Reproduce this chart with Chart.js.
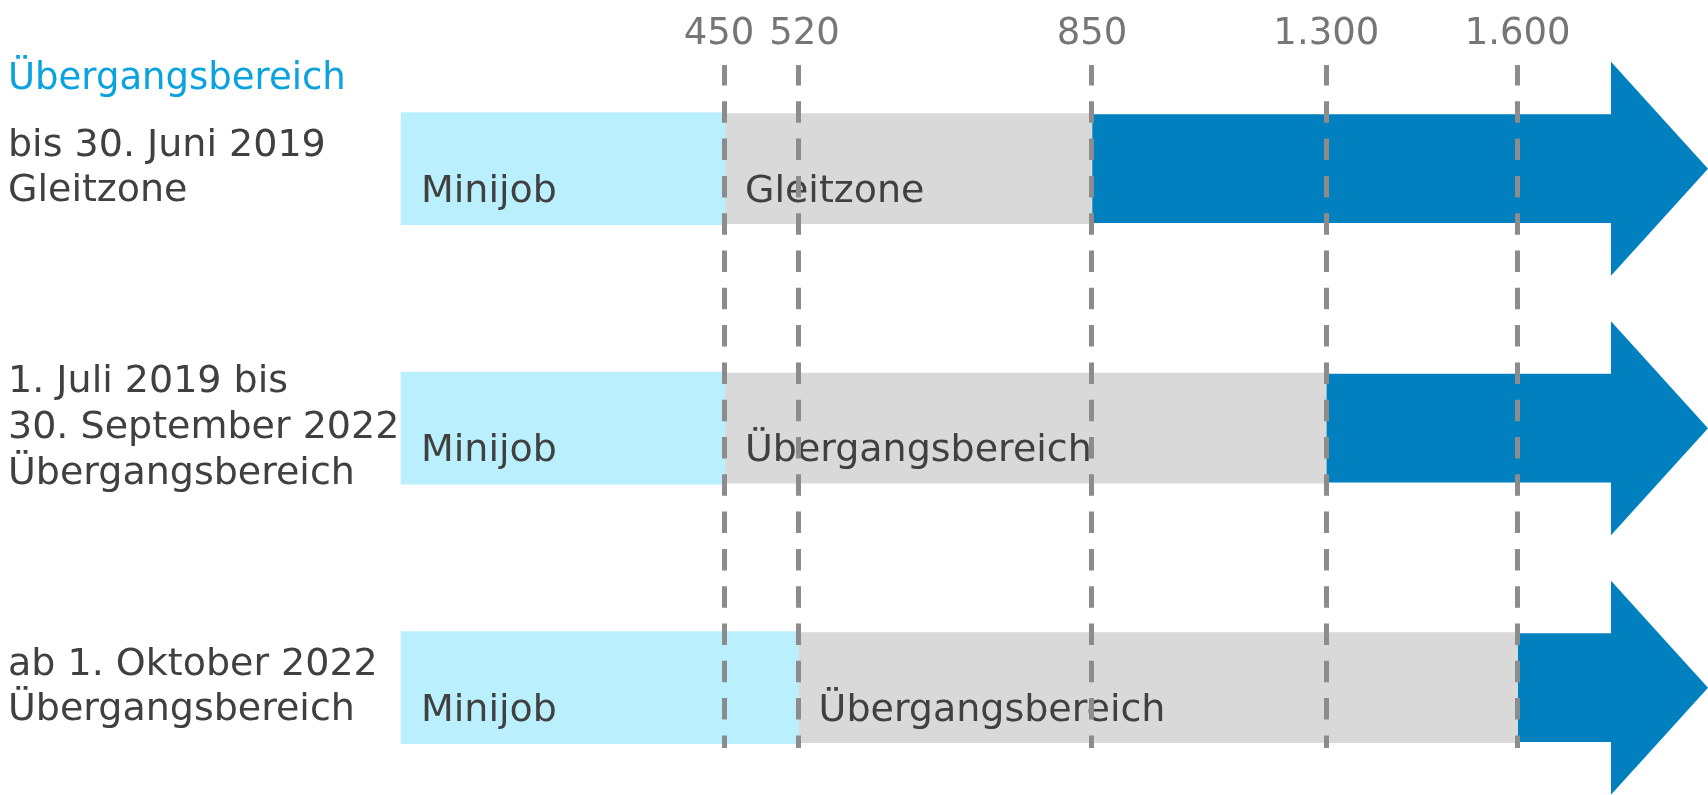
<!DOCTYPE html>
<html lang="de">
<head>
<meta charset="utf-8">
<title>Minijob, Gleitzone und Übergangsbereich</title>
<script src="https://cdn.jsdelivr.net/npm/chart.js@4.4.1/dist/chart.umd.min.js"></script>
<style>
  html, body { margin: 0; padding: 0; background: #fff; }
  #grafik { display: block; }
</style>
</head>
<body>
<canvas id="grafik" width="1708" height="795"></canvas>
<script>
// Zeitraeume (eine Zeile je Zeitraum)
const zeitraeume = [
  ['bis 30. Juni 2019', 'Gleitzone'],
  ['1. Juli 2019 bis', '30. September 2022', 'Übergangsbereich'],
  ['ab 1. Oktober 2022', 'Übergangsbereich']
];
// Grenzen in Euro je Zeitraum
const minijobGrenze = [450, 450, 520];
const zonenGrenze = [850, 1300, 1600];
const zonenName = ['Gleitzone', 'Übergangsbereich', 'Übergangsbereich'];
// Werte an der oberen Achse
const achsenWerte = [450, 520, 850, 1300, 1600];
// offenes Ende der Pfeile = Achsenende
const offenesEnde = 1900;
const titel = 'Übergangsbereich';

const schrift = "Verdana, 'DejaVu Sans', sans-serif";
const groesse = 38;
const farben = {
  minijob: '#BAF0FD',
  zone: '#D9D9D9',
  voll: '#0080BF',
  titel: '#0BA3DF',
  text: '#404040',
  achse: '#767676',
  linie: '#8C8C8C'
};

// die Achse im Original ist nicht massstaeblich -> stueckweise lineare Skala
const stuetzWerte = [0, ...achsenWerte, offenesEnde];
const stuetzAnteile = [0, 0.2675, 0.3283, 0.5706, 0.7641, 0.9221, 1];

class StufenSkala extends Chart.LinearScale {
  zuAnteil(wert) {
    const w = stuetzWerte, a = stuetzAnteile;
    let i = 1;
    while (i < w.length - 1 && wert > w[i]) i++;
    return a[i - 1] + (wert - w[i - 1]) / (w[i] - w[i - 1]) * (a[i] - a[i - 1]);
  }
  getPixelForValue(wert) {
    if (wert === null || isNaN(wert)) return NaN;
    return this.getPixelForDecimal(this.zuAnteil(wert));
  }
  getValueForPixel(pixel) {
    const d = this.getDecimalForPixel(pixel);
    const w = stuetzWerte, a = stuetzAnteile;
    let i = 1;
    while (i < a.length - 1 && d > a[i]) i++;
    return w[i - 1] + (d - a[i - 1]) / (a[i] - a[i - 1]) * (w[i] - w[i - 1]);
  }
}
StufenSkala.id = 'stufen';
StufenSkala.defaults = Chart.LinearScale.defaults;
Chart.register(StufenSkala);

Chart.defaults.font.family = schrift;
Chart.defaults.font.size = groesse;

// 1300 -> "1.300"; 450 und 520 stehen im Original etwas auseinander
const achsenText = (v) => {
  const t = String(v).replace(/\B(?=(\d{3})+(?!\d))/g, '.');
  if (v === achsenWerte[0]) return t + ' ';
  if (v === achsenWerte[1]) return ' ' + t;
  return t;
};

// Pfeilspitzen am Ende der dunkelblauen Balken
const pfeilSpitzen = {
  id: 'pfeilSpitzen',
  afterDatasetsDraw(chart) {
    const ctx = chart.ctx;
    const meta = chart.getDatasetMeta(2);
    ctx.save();
    ctx.fillStyle = farben.voll;
    meta.data.forEach((balken) => {
      const halb = 107, laenge = 96;
      ctx.beginPath();
      ctx.moveTo(balken.x - 1, balken.y - halb);
      ctx.lineTo(balken.x + laenge, balken.y);
      ctx.lineTo(balken.x - 1, balken.y + halb);
      ctx.closePath();
      ctx.fill();
    });
    ctx.restore();
  }
};

// Beschriftung in den Balken (Minijob / Gleitzone / Übergangsbereich)
const balkenText = {
  id: 'balkenText',
  afterDatasetsDraw(chart) {
    const ctx = chart.ctx;
    ctx.save();
    ctx.font = groesse + 'px ' + schrift;
    ctx.fillStyle = farben.text;
    ctx.textBaseline = 'middle';
    ctx.textAlign = 'left';
    chart.data.datasets.forEach((ds, di) => {
      if (!ds.beschriftung) return;
      chart.getDatasetMeta(di).data.forEach((balken, i) => {
        ctx.fillText(ds.beschriftung[i], balken.base + 20, balken.y + 23);
      });
    });
    ctx.restore();
  }
};

// blaue Ueberschrift links oben
const ueberschrift = {
  id: 'ueberschrift',
  afterDraw(chart) {
    const ctx = chart.ctx;
    ctx.save();
    ctx.font = '37px ' + schrift;
    ctx.fillStyle = farben.titel;
    ctx.textBaseline = 'alphabetic';
    ctx.fillText(titel, chart.scales.y.left, 89);
    ctx.restore();
  }
};

new Chart(document.getElementById('grafik'), {
  type: 'bar',
  data: {
    datasets: [
      {
        label: 'Minijob',
        data: minijobGrenze.map((g, i) => ({ x: [0, g], y: i })),
        backgroundColor: farben.minijob,
        barThickness: 112,
        beschriftung: minijobGrenze.map(() => 'Minijob')
      },
      {
        label: 'Gleitzone / Übergangsbereich',
        data: zonenGrenze.map((g, i) => ({ x: [minijobGrenze[i], g], y: i })),
        backgroundColor: farben.zone,
        barThickness: 110,
        beschriftung: zonenName
      },
      {
        label: 'voll beitragspflichtig',
        data: zonenGrenze.map((g, i) => ({ x: [g, offenesEnde], y: i })),
        backgroundColor: farben.voll,
        barThickness: 108
      }
    ]
  },
  options: {
    indexAxis: 'y',
    responsive: false,
    animation: false,
    devicePixelRatio: 1,
    layout: { padding: { left: 8, right: 96, top: 9, bottom: 47 } },
    datasets: { bar: { grouped: false, clip: false, borderWidth: 0 } },
    plugins: {
      legend: { display: false },
      tooltip: { enabled: false },
      title: { display: false }
    },
    scales: {
      x: {
        type: 'stufen',
        position: 'top',
        bounds: 'data',
        offset: false,
        min: 0,
        max: offenesEnde,
        grid: { color: farben.linie, lineWidth: 5, drawTicks: false, z: 1 },
        border: { display: false, dash: [21.5, 15.8], dashOffset: 1 },
        ticks: {
          color: farben.achse,
          padding: 8,
          font: { size: 37 },
          autoSkip: false,
          maxRotation: 0,
          minRotation: 0,
          callback: (v) => achsenText(v)
        },
        afterBuildTicks: (s) => { s.ticks = achsenWerte.map((v) => ({ value: v })); },
        afterFit: (s) => { s.height = 56; s.paddingLeft = 0; s.paddingRight = 0; }
      },
      y: {
        type: 'linear',
        reverse: true,
        bounds: 'data',
        offset: false,
        min: -0.3995,
        max: 2.2325,
        grid: { display: false, offset: false },
        border: { display: false },
        ticks: {
          color: farben.text,
          crossAlign: 'far',
          padding: 0,
          font: { size: groesse, lineHeight: 1.2 },
          callback: (v) => zeitraeume[v]
        },
        afterBuildTicks: (s) => { s.ticks = zeitraeume.map((z, i) => ({ value: i })); },
        afterFit: (s) => { s.width = 393; s.paddingTop = 0; s.paddingBottom = 0; }
      }
    }
  },
  plugins: [pfeilSpitzen, balkenText, ueberschrift]
});
</script>
</body>
</html>
